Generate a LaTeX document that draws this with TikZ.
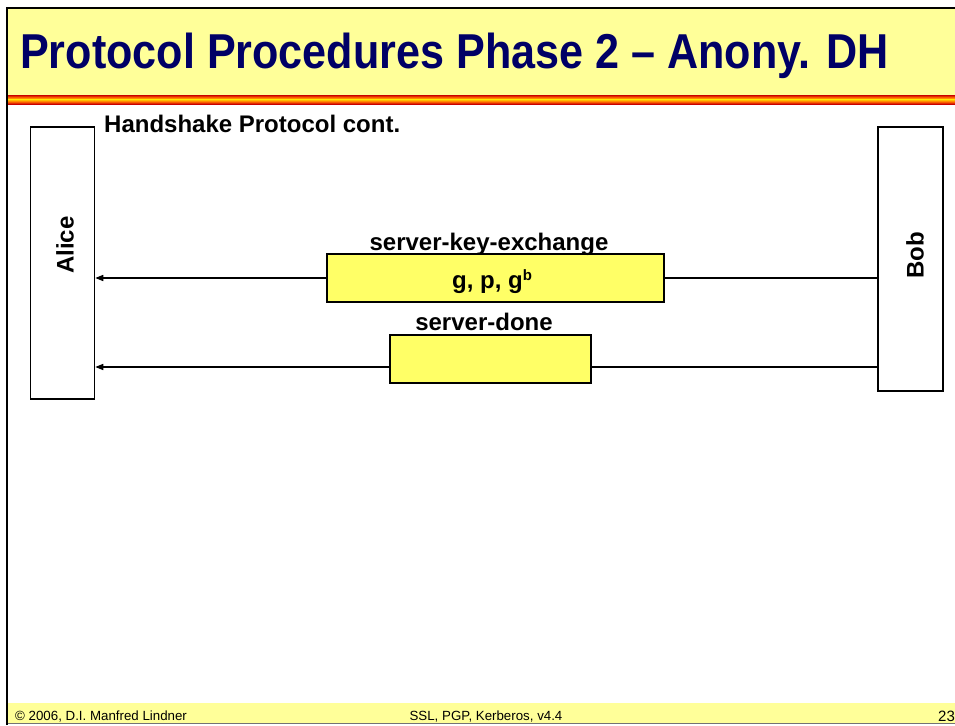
\documentclass[tikz,border=0pt]{standalone}
\usepackage{fontspec}
\setmainfont{Liberation Sans}
\newfontfamily\titlefont[FakeStretch=0.88]{Liberation Sans}
\usetikzlibrary{arrows.meta}
\definecolor{navy}{RGB}{0,0,102}
\definecolor{paleyellow}{RGB}{255,255,153}
\definecolor{boxyellow}{RGB}{255,255,102}
\definecolor{barred}{RGB}{200,0,0}
\definecolor{barorange}{RGB}{255,102,0}
\definecolor{baryellow}{RGB}{255,210,0}
\tikzset{
  party/.style={draw=black, line width=1.5pt, fill=white, inner sep=0pt},
  msgbox/.style={draw=black, line width=1.5pt, fill=boxyellow, inner sep=0pt},
  lbl/.style={font=\fontsize{24}{28}\selectfont\bfseries, inner sep=0pt},
  msg/.style={line width=1.5pt},
  msgarrow/.style={line width=1.5pt, -{Triangle[length=8pt,width=6pt]}},
  foot/.style={font=\fontsize{13.3}{16}\selectfont, inner sep=0pt}
}
\begin{document}
\begin{tikzpicture}[x=1pt,y=-1pt]
\useasboundingbox (0,0) rectangle (955,725);
\fill[white] (0,0) rectangle (955,725);
% title band
\fill[paleyellow] (7,8) rectangle (955,95);
\shade[top color=barred, bottom color=baryellow, middle color=barorange] (7,95) rectangle (955,99.5);
\shade[top color=baryellow, bottom color=barred, middle color=barorange] (7,99.5) rectangle (955,104);
\node[anchor=base west, inner sep=0pt, text=navy, font=\titlefont\fontsize{49}{56}\selectfont\bfseries] (title) at (20,68) {Protocol Procedures Phase 2 \textendash{} Anony. DH};
% footer band
\fill[paleyellow] (7,703) rectangle (955,723);
\draw[line width=1pt, black!55] (7,723.5) -- (955,723.5);
% frame
\draw[line width=2.5pt] (7,725) -- (7,8) -- (955,8);
% footer text
\node[foot, anchor=base west] (f1) at (15,720) {\textcopyright{} 2006, D.I. Manfred Lindner};
\node[foot, anchor=base] (f2) at (486,720) {SSL, PGP, Kerberos, v4.4};
\node[foot, anchor=base west, font=\fontsize{15}{18}\selectfont] (f3) at (938,721) {23};
% heading
\node[lbl, anchor=base west] (hs) at (104,132) {Handshake Protocol cont.};
% parties
\node[party, minimum width=64pt, minimum height=272pt] (alice) at (62.5,263) {};
\node[lbl, rotate=90] (alicet) at (65,245) {Alice};
\node[party, minimum width=65pt, minimum height=264pt] (bob) at (910.5,259) {};
\node[lbl, rotate=90] (bobt) at (915,255) {Bob};
% message 1
\node[msgbox, minimum width=337pt, minimum height=48pt] (m1) at (495.5,278) {};
\node[lbl, anchor=base west] (m1t) at (452,288) {g, p, g{\raisebox{8pt}{\fontsize{15}{18}\selectfont b}}};
\node[lbl, anchor=base] (m1l) at (489,250) {server-key-exchange};
\draw[msg] (bob.west |- m1) -- (m1.east);
\draw[msgarrow] (m1.west) -- (alice.east |- m1);
% message 2
\node[msgbox, minimum width=201pt, minimum height=48pt] (m2) at (490.5,359) {};
\node[lbl, anchor=base] (m2l) at (484,330) {server-done};
\coordinate (y2) at (0,367);
\draw[msg] (bob.west |- y2) -- (m2.east |- y2);
\draw[msgarrow] (m2.west |- y2) -- (alice.east |- y2);
\end{tikzpicture}
\end{document}
